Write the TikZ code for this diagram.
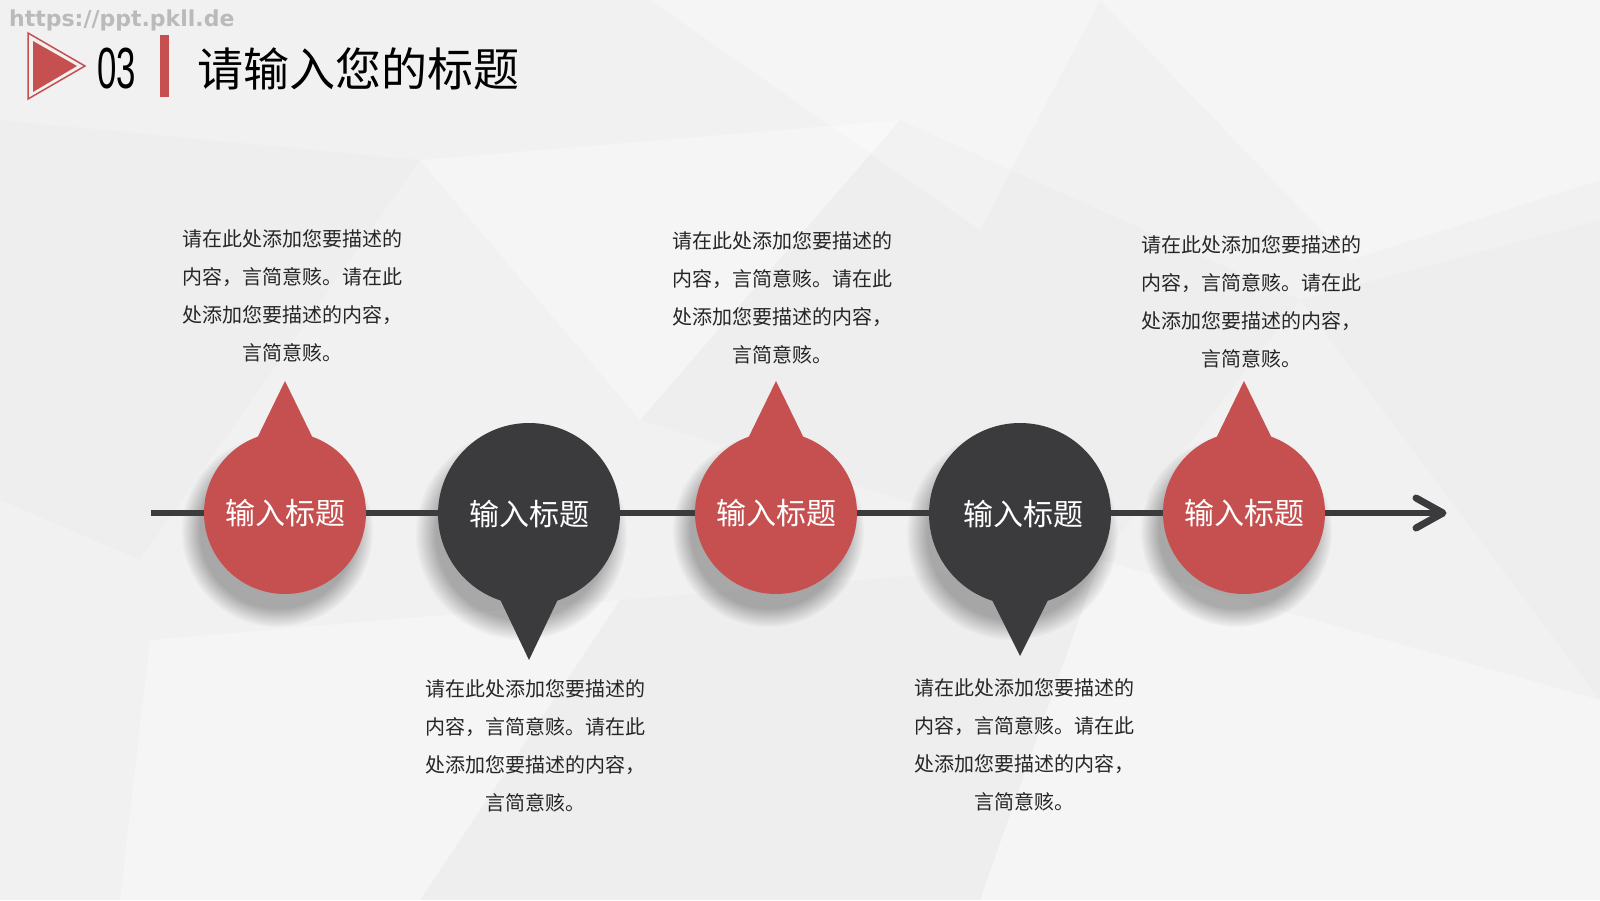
\documentclass[tikz,border=0pt]{standalone}
\usepackage{graphicx}
\usepackage{fontspec}
\newfontfamily\cjk{Noto Sans CJK SC}
\newfontfamily\latn{Liberation Sans}
\newfontfamily\wmfont{DejaVu Sans}
\usetikzlibrary{fadings,calc}
\definecolor{pinred}{HTML}{C5504F}
\definecolor{pindark}{HTML}{3B3A3D}
\definecolor{txt}{HTML}{262626}
\definecolor{bgc}{HTML}{F1F1F1}
\tikzset{
  desc/.style={text=txt, font=\cjk\fontsize{20}{38}\selectfont, align=center, inner sep=0pt},
  redc/.style={circle, fill=pinred, minimum size=162pt, inner sep=0pt, text=white, font=\cjk\fontsize{30}{36}\selectfont},
  darkc/.style={circle, fill=pindark, minimum size=182pt, inner sep=0pt, text=white, font=\cjk\fontsize{30}{36}\selectfont},
  shade/.style={black, opacity=0.30, path fading=circle with fuzzy edge 20 percent},
  timeline/.style={draw=pindark, line width=6pt},
  poly/.style={fill=white, opacity=0.3},
  polyd/.style={fill=black, opacity=0.012}
}
\begin{document}
\begin{tikzpicture}[x=1pt,y=-1pt]
\useasboundingbox (0,0) rectangle (1600,900);
\fill[bgc] (0,0) rectangle (1600,900);
% subtle low-poly background
\fill[poly] (650,0) -- (1100,0) -- (980,230) -- cycle;
\fill[poly] (1100,0) -- (1600,0) -- (1600,180) -- (1350,260) -- cycle;
\fill[polyd] (0,120) -- (420,160) -- (140,560) -- (0,500) -- cycle;
\fill[poly] (420,160) -- (900,120) -- (640,420) -- cycle;
\fill[polyd] (1300,300) -- (1600,220) -- (1600,700) -- cycle;
\fill[poly] (150,640) -- (620,600) -- (420,900) -- (120,900) -- cycle;
\fill[polyd] (620,600) -- (1100,560) -- (980,900) -- (420,900) -- cycle;
\fill[poly] (1100,560) -- (1600,700) -- (1600,900) -- (980,900) -- cycle;
\fill[polyd] (900,120) -- (1300,300) -- (1100,560) -- (640,420) -- cycle;

% header
\node[anchor=west, inner sep=0pt, text=black!27, font=\wmfont\bfseries\fontsize{22}{22}\selectfont] (wm) at (9,20) {https://ppt.pkll.de};
\fill[pinred] (33,41) -- (33,92) -- (77,66) -- cycle;
\draw[pinred, line width=1.5pt, line join=miter] (28,33) -- (28,99) -- (85,66) -- cycle;
\node[anchor=west, inner sep=0pt, text=black, font=\latn\fontsize{58}{60}\selectfont] (num) at (97,69) {\scalebox{0.6}[1]{03}};
\fill[pinred] (160,35) rectangle (169,97);
\node[anchor=west, inner sep=0pt, text=black, font=\cjk\fontsize{46}{50}\selectfont] (title) at (197,69) {请输入您的标题};

% pin centres
\coordinate (p1) at (285,513);
\coordinate (p2) at (529,514);
\coordinate (p3) at (776,513);
\coordinate (p4) at (1020,514);
\coordinate (p5) at (1244,513);

% shadows
\foreach \p/\r in {p1/96, p3/96, p5/96} {
  \fill[shade] ($(\p)+(-8,18)$) circle[radius=\r pt];
}
\foreach \p/\r in {p2/106, p4/106} {
  \fill[shade] ($(\p)+(-8,20)$) circle[radius=\r pt];
}

% timeline
\coordinate (ls) at (151,513);
\coordinate (le) at (1443,513);
\draw[timeline] (ls) -- (le);
\draw[timeline, line cap=round, line join=round, line width=7pt] ($(le)+(-27,-15)$) -- (le) -- ($(le)+(-27,15)$);

% pins
\node[redc] (c1) at (p1) {\raisebox{-5pt}{输入标题}};
\node[darkc] (c2) at (p2) {\raisebox{-3pt}{输入标题}};
\node[redc] (c3) at (p3) {\raisebox{-5pt}{输入标题}};
\node[darkc] (c4) at (p4) {\hspace*{6pt}\raisebox{-3pt}{输入标题}};
\node[redc] (c5) at (p5) {\raisebox{-5pt}{输入标题}};
\foreach \c in {c1,c3,c5} {
  \fill[pinred] ($(\c)+(0,-132)$) -- ($(\c)+(40,-50)$) -- ($(\c)+(-40,-50)$) -- cycle;
}
\fill[pindark] ($(c2)+(0,146)$) -- ($(c2)+(41,60)$) -- ($(c2)+(-41,60)$) -- cycle;
\fill[pindark] ($(c4)+(0,142)$) -- ($(c4)+(41,60)$) -- ($(c4)+(-41,60)$) -- cycle;

% descriptions
\node[desc] (d1) at (292,296) {请在此处添加您要描述的\\内容，言简意赅。请在此\\处添加您要描述的内容，\\言简意赅。};
\node[desc] (d3) at (782,298) {请在此处添加您要描述的\\内容，言简意赅。请在此\\处添加您要描述的内容，\\言简意赅。};
\node[desc] (d5) at (1251,302) {请在此处添加您要描述的\\内容，言简意赅。请在此\\处添加您要描述的内容，\\言简意赅。};
\node[desc] (d2) at (535,746) {请在此处添加您要描述的\\内容，言简意赅。请在此\\处添加您要描述的内容，\\言简意赅。};
\node[desc] (d4) at (1024,745) {请在此处添加您要描述的\\内容，言简意赅。请在此\\处添加您要描述的内容，\\言简意赅。};
\end{tikzpicture}
\end{document}
